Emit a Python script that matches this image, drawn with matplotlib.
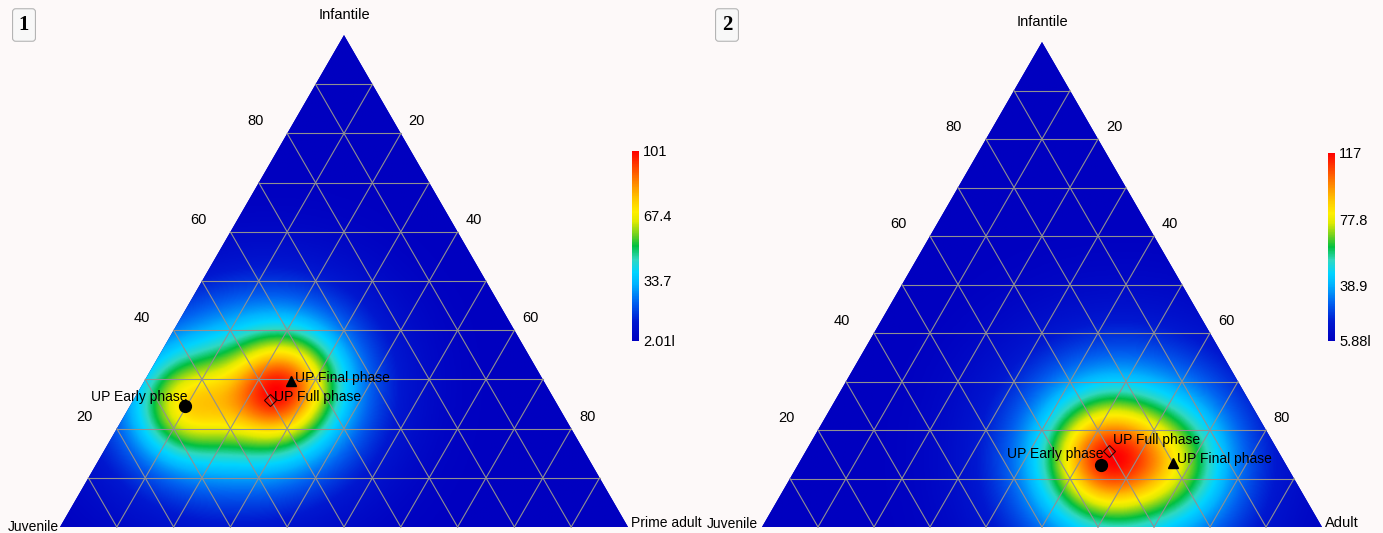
import numpy as np
import matplotlib
matplotlib.use('Agg')
import matplotlib.pyplot as plt
from matplotlib.colors import LinearSegmentedColormap
from matplotlib.patches import Polygon

# --- data (percentages: infantile, juvenile, third group) ---
phases = ['UP Early phase', 'UP Full phase', 'UP Final phase']
markers = ['o', 'D', '^']

p1_infantile = [24.5, 25.8, 29.7]
p1_juvenile = [65.8, 50.1, 44.5]
p1_prime = [9.7, 24.1, 25.8]
p1_weight = [1.15, 1.0, 1.0]

p2_infantile = [12.7, 15.6, 13.1]
p2_juvenile = [33.1, 30.2, 20.1]
p2_adult = [54.2, 54.2, 66.8]
p2_weight = [1.0, 1.0, 0.85]

cbar1_ticks = [2.01, 33.7, 67.4, 101]
cbar1_labels = ['2.01l', '33.7', '67.4', '101']
cbar2_ticks = [5.88, 38.9, 77.8, 117]
cbar2_labels = ['5.88l', '38.9', '77.8', '117']

axis_ticks = [20, 40, 60, 80]

BG = '#fdf9f9'
plt.rcParams['font.family'] = ['Liberation Sans', 'DejaVu Sans']

cmap = LinearSegmentedColormap.from_list('heat', [
    (0.00, '#0000c0'), (0.10, '#0018d0'), (0.20, '#0060f0'),
    (0.30, '#00b4ff'), (0.36, '#00d4ff'), (0.43, '#30d8c0'),
    (0.50, '#00c040'), (0.56, '#70d020'), (0.63, '#e0ea00'),
    (0.68, '#ffee00'), (0.76, '#ffc000'), (0.87, '#ff6a00'),
    (1.00, '#ff0000')])

H = np.sqrt(3) / 2


def to_xy(inf, right):
    inf = np.asarray(inf) / 100.0
    right = np.asarray(right) / 100.0
    return right + inf / 2, inf * H


def draw_panel(ax, cax, inf, right, weights, sigma, ticks, labels,
               names, lbl_off):
    tri = np.array([[0, 0], [1, 0], [0.5, H]])
    ax.add_patch(Polygon(tri, closed=True, facecolor=cmap(0.0),
                         edgecolor='none', zorder=1))

    # density surface from the phase points (narrow + wide kernel)
    px, py = to_xy(inf, right)
    gx, gy = np.meshgrid(np.linspace(0, 1, 500), np.linspace(0, H, 440))
    f = np.zeros_like(gx)
    for x0, y0, w in zip(px, py, weights):
        r2 = (gx - x0) ** 2 + (gy - y0) ** 2
        f += w * (0.6 * np.exp(-r2 / (2 * sigma ** 2))
                  + 0.4 * np.exp(-r2 / (2 * (2.1 * sigma) ** 2)))
    vmin, vmax = ticks[0], ticks[-1]
    z = vmin + (vmax - vmin) * f / f.max()
    im = ax.imshow(z, origin='lower', extent=[0, 1, 0, H], cmap=cmap,
                   vmin=vmin, vmax=vmax, interpolation='bilinear', zorder=2)
    clip = Polygon(tri, closed=True, transform=ax.transData)
    im.set_clip_path(clip)

    # grid lines every 10 %
    for i in range(1, 10):
        t = i / 10
        gc = dict(color='#909090', lw=0.8, zorder=3)
        ax.plot([t / 2, 1 - t / 2], [t * H, t * H], **gc)
        ax.plot([t, t / 2], [0, t * H], **gc)
        ax.plot([t, (1 + t) / 2], [0, (1 - t) * H], **gc)

    # axis numbers
    for v in axis_ticks:
        h = v / 100
        ax.annotate(str(v), (h / 2, h * H), xytext=(-32, 12),
                    textcoords='offset pixels', ha='center', va='center',
                    fontsize=10.5)
        ax.annotate(str(100 - v), (1 - h / 2, h * H), xytext=(16, 12),
                    textcoords='offset pixels', ha='center', va='center',
                    fontsize=10.5)

    # phase points
    for x0, y0, m, name, (dx, dy, ha) in zip(px, py, markers, names, lbl_off):
        if m == 'D':
            ax.plot(x0, y0, m, ms=6.5, mfc='none', mec='#300000', mew=0.8,
                    zorder=5)
        else:
            ax.plot(x0, y0, m, ms=8.5 if m == 'o' else 7.5, color='black',
                    zorder=5)
        ax.annotate(name, (x0, y0), xytext=(dx, dy),
                    textcoords='offset pixels', ha=ha, va='center',
                    fontsize=10, zorder=6)

    cb = plt.colorbar(im, cax=cax, ticks=ticks)
    cb.set_ticklabels(labels)
    cb.outline.set_visible(False)
    cax.tick_params(length=0, pad=3, labelsize=10.5)


fig = plt.figure(figsize=(13.83, 5.33), dpi=100, facecolor=BG)

# panel 1: triangle base from pixel 60 to 628, baseline at 527
s1 = 568.0
ax1 = fig.add_axes([0, 0, 690 / 1383, 1])
ax1.set_xlim(-60 / s1, 630 / s1)
ax1.set_ylim(-6 / s1, 527 / s1)
cax1 = fig.add_axes([632 / 1383, (533 - 341) / 533, 7 / 1383, 190 / 533])
draw_panel(ax1, cax1, p1_infantile, p1_prime, p1_weight, 34 / s1,
           cbar1_ticks, cbar1_labels, phases,
           [(3, 9, 'right'), (4, 3, 'left'), (4, 3, 'left')])
ax1.annotate('Infantile', (0.5, H), xytext=(0, 20), textcoords='offset pixels',
             ha='center', va='center', fontsize=10.5)
ax1.annotate('Juvenile', (0, 0), xytext=(-1, 0), textcoords='offset pixels',
             ha='right', va='center', fontsize=10)
ax1.annotate('Prime adult', (1, 0), xytext=(3, 4), textcoords='offset pixels',
             ha='left', va='center', fontsize=10)

# panel 2: triangle base from pixel 762 to 1322
s2 = 560.0
ax2 = fig.add_axes([700 / 1383, 0, 683 / 1383, 1])
ax2.set_xlim(-62 / s2, 621 / s2)
ax2.set_ylim(-6 / s2, 527 / s2)
cax2 = fig.add_axes([1328 / 1383, (533 - 341) / 533, 7 / 1383, 188 / 533])
draw_panel(ax2, cax2, p2_infantile, p2_adult, p2_weight, 38 / s2,
           cbar2_ticks, cbar2_labels, phases,
           [(2, 11, 'right'), (4, 11, 'left'), (4, 4, 'left')])
ax2.annotate('Infantile', (0.5, H), xytext=(0, 20), textcoords='offset pixels',
             ha='center', va='center', fontsize=10.5)
ax2.annotate('Juvenile', (0, 0), xytext=(-4, 3), textcoords='offset pixels',
             ha='right', va='center', fontsize=10)
ax2.annotate('Adult', (1, 0), xytext=(3, 4), textcoords='offset pixels',
             ha='left', va='center', fontsize=10.5)

for ax in (ax1, ax2):
    ax.set_aspect('auto')
    ax.axis('off')
    ax.patch.set_alpha(0)

# panel numbers
for xpx, num in [(24, '1'), (727, '2')]:
    fig.text(xpx / 1383, 1 - 25 / 533, num, ha='center', va='center',
             fontsize=15, fontweight='bold', family='Liberation Serif',
             bbox=dict(boxstyle='round,pad=0.3,rounding_size=0.15',
                       fc='#f8f8f8', ec='#b4b4b4', lw=0.8))

fig.savefig('out.png', dpi=100, facecolor=BG)
